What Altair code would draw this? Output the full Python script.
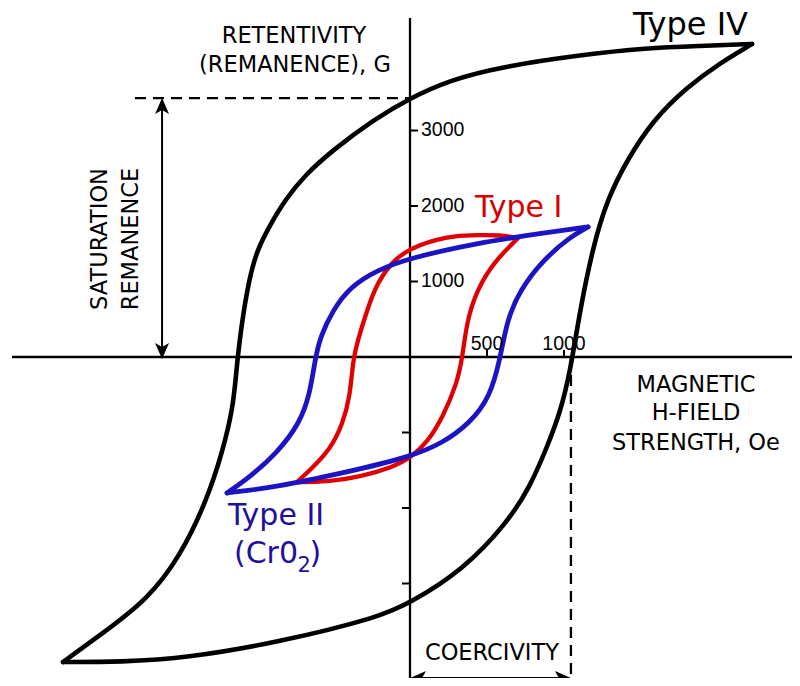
import altair as alt
import pandas as pd

# ---------------- data (H in Oe, B in G) ----------------
# Type IV (black) loop
t4_up_H = [2221, 1883, 1539, 1104, 584, 260, 0, -240, -500, -682, -812, -909, -994, -1045, -1084, -1110, -1130, -1149, -1214, -1318, -1494, -1708, -1994, -2253]
t4_up_B = [4146, 4119, 4093, 4000, 3841, 3669, 3430, 3139, 2742, 2411, 2079, 1748, 1417, 1020, 556, 159, -238, -662, -1232, -1894, -2649, -3219, -3656, -4040]
t4_lo_H = [-2253, -1883, -1448, -844, -195, 0, 344, 630, 779, 890, 974, 1039, 1104, 1188, 1279, 1409, 1578, 1799, 2013, 2221]
t4_lo_B = [-4040, -4040, -3987, -3775, -3444, -3258, -2821, -2199, -1722, -1192, -742, -212, 623, 1457, 2079, 2609, 3139, 3576, 3894, 4146]

# Type I (red) loop
t1_up_H = [701, 584, 435, 292, 162, 65, -32, -117, -214, -279, -344, -370, -390, -435, -519, -649, -734]
t1_up_B = [1576, 1616, 1616, 1603, 1550, 1483, 1391, 1258, 980, 623, 185, -40, -530, -874, -1232, -1497, -1656]
t1_lo_H = [-734, -539, -325, -110, 0, 110, 214, 305, 338, 370, 435, 539, 701]
t1_lo_B = [-1656, -1656, -1589, -1457, -1338, -1139, -795, -344, -40, 490, 887, 1245, 1576]

# Type II (blue) loop
t2_up_H = [1156, 864, 435, 0, -214, -390, -500, -584, -617, -649, -714, -864, -1039, -1188]
t2_up_B = [1722, 1642, 1510, 1311, 1152, 927, 623, 265, -40, -477, -874, -1272, -1589, -1801]
t2_lo_H = [-1188, -864, -435, 0, 214, 390, 519, 584, 630, 714, 864, 1039, 1156]
t2_lo_B = [-1801, -1722, -1536, -1325, -1139, -874, -530, -40, 490, 887, 1285, 1589, 1722]

y_ticks_pos = [1000, 2000, 3000]
y_ticks_neg = [-1000, -2000, -3000]
y_tick_labels = ["1000", "2000", "3000"]
x_ticks = [500, 1000]
x_tick_labels = ["500", "1000"]

remanence_IV = 3430   # G
coercivity_IV = 1045  # Oe

# ---------------- scales ----------------
H_MIN, H_MAX = -2610.4, 2480.5
B_MIN, B_MAX = -4251.7, 4622.5
xs = alt.Scale(domain=[H_MIN, H_MAX], nice=False, zero=False)
ys = alt.Scale(domain=[B_MIN, B_MAX], nice=False, zero=False)
X = lambda f: alt.X(f, type="quantitative", scale=xs, axis=None)
Y = lambda f: alt.Y(f, type="quantitative", scale=ys, axis=None)


def curve(name, branches):
    rows = []
    for bname, Hs, Bs in branches:
        for i, (h, b) in enumerate(zip(Hs, Bs)):
            rows.append(dict(branch=name + bname, i=i, H=h, B=b))
    return pd.DataFrame(rows)


def line_layer(df, color, width):
    return alt.Chart(df).mark_line(
        interpolate="basis", color=color, strokeWidth=width,
        strokeCap="round", strokeJoin="round"
    ).encode(x=X("H"), y=Y("B"), detail="branch:N", order="i:Q")


black = line_layer(curve("IV", [("u", t4_up_H, t4_up_B), ("l", t4_lo_H, t4_lo_B)]), "#000000", 4.6)
red = line_layer(curve("I", [("u", t1_up_H, t1_up_B), ("l", t1_lo_H, t1_lo_B)]), "#e00000", 4.3)
blue = line_layer(curve("II", [("u", t2_up_H, t2_up_B), ("l", t2_lo_H, t2_lo_B)]), "#1c14c4", 4.8)

# axes lines
axes_df = pd.DataFrame([
    dict(x=-2584, x2=H_MAX, y=0, y2=0),
    dict(x=0, x2=0, y=4490, y2=B_MIN),
])
axes = alt.Chart(axes_df).mark_rule(color="black", strokeWidth=2.3).encode(
    x=X("x"), x2="x2", y=Y("y"), y2="y2")

# ticks
tick_len_h = 52
tick_len_b = 93
ticks_rows = [dict(x=0, x2=tick_len_h, y=v, y2=v) for v in y_ticks_pos]
ticks_rows += [dict(x=-tick_len_h, x2=0, y=v, y2=v) for v in y_ticks_neg]
ticks_rows += [dict(x=v, x2=v, y=0, y2=tick_len_b) for v in x_ticks]
ticks = alt.Chart(pd.DataFrame(ticks_rows)).mark_rule(color="black", strokeWidth=2).encode(
    x=X("x"), x2="x2", y=Y("y"), y2="y2")

# dashed guides
dash_df = pd.DataFrame([
    dict(x=-1786, x2=0, y=remanence_IV, y2=remanence_IV),
    dict(x=coercivity_IV, x2=coercivity_IV, y=0, y2=-4238),
])
dashes = alt.Chart(dash_df).mark_rule(color="black", strokeWidth=2.3, strokeDash=[11, 7]).encode(
    x=X("x"), x2="x2", y=Y("y"), y2="y2")

# arrow shafts
arr_y = B_MIN
shaft_df = pd.DataFrame([
    dict(x=-1610, x2=-1610, y=remanence_IV - 100, y2=100),
    dict(x=40, x2=coercivity_IV - 40, y=arr_y, y2=arr_y),
])
shafts = alt.Chart(shaft_df).mark_rule(color="black", strokeWidth=2).encode(
    x=X("x"), x2="x2", y=Y("y"), y2="y2")

ARROW = "M0,0 L0.7,1.6 L0,1.2 L-0.7,1.6 Z"
heads_df = pd.DataFrame([
    dict(H=-1610, B=remanence_IV, ang=0),
    dict(H=-1610, B=-25, ang=180),
    dict(H=0, B=arr_y, ang=270),
    dict(H=coercivity_IV, B=arr_y, ang=90),
])
heads = alt.Chart(heads_df).mark_point(
    shape=ARROW, filled=True, size=400, color="black", opacity=1, strokeWidth=0
).encode(x=X("H"), y=Y("B"), angle=alt.Angle("ang:Q", scale=None))

# ---------------- text ----------------
def text_layer(rows, **kw):
    return alt.Chart(pd.DataFrame(rows)).mark_text(**kw).encode(
        x=X("H"), y=Y("B"), text="t:N")

font = "DejaVu Sans"
txt_black = text_layer([
    dict(t="RETENTIVITY", H=-753, B=4159),
    dict(t="(REMANENCE), G", H=-747, B=3775),
    dict(t="MAGNETIC", H=1857, B=-464),
    dict(t="H-FIELD", H=1857, B=-834),
    dict(t="STRENGTH, Oe", H=1857, B=-1232),
    dict(t="COERCIVITY", H=532, B=-4013),
], font=font, fontSize=22.5, align="center", baseline="alphabetic", color="black")

txt_rot = text_layer([
    dict(t="SATURATION", H=-1968, B=1563),
    dict(t="REMANENCE", H=-1766, B=1563),
], font=font, fontSize=22.5, align="center", baseline="alphabetic", color="black", angle=270)

txt_t4 = text_layer([dict(t="Type IV", H=1448, B=4265)],
                    font=font, fontSize=32, align="left", baseline="alphabetic", color="black")
txt_t1 = text_layer([dict(t="Type I", H=422, B=1854)],
                    font=font, fontSize=30, align="left", baseline="alphabetic", color="#d80000")
blue_txt = "#22109c"
txt_t2 = text_layer([dict(t="Type II", H=-870, B=-2225)],
                    font=font, fontSize=30, align="center", baseline="alphabetic", color=blue_txt)
txt_cr_a = text_layer([dict(t="(Cr0", H=-727, B=-2728)],
                      font=font, fontSize=30, align="right", baseline="alphabetic", color=blue_txt)
txt_cr_b = text_layer([dict(t="2", H=-730, B=-2848)],
                      font=font, fontSize=21, align="left", baseline="alphabetic", color=blue_txt)
txt_cr_c = text_layer([dict(t=")", H=-652, B=-2728)],
                      font=font, fontSize=30, align="left", baseline="alphabetic", color=blue_txt)

ylab = text_layer([dict(t=l, H=71, B=v) for l, v in zip(y_tick_labels, y_ticks_pos)],
                  font="Liberation Sans", fontSize=19.5, align="left", baseline="middle", color="black")
xlab = text_layer([dict(t=l, H=v, B=0) for l, v in zip(x_tick_labels, x_ticks)],
                  font="Liberation Sans", fontSize=19.5, align="center", baseline="alphabetic",
                  color="black", dy=-7)

chart = alt.layer(
    axes, ticks, dashes, shafts, heads, black, red, blue,
    txt_black, txt_rot, txt_t4, txt_t1, txt_t2, txt_cr_a, txt_cr_b, txt_cr_c, ylab, xlab
).properties(
    width=784, height=670, padding=0, autosize="none", background="white"
).configure_view(stroke=None)

chart.save("out.html", embed_options={"renderer": "svg", "actions": False})
